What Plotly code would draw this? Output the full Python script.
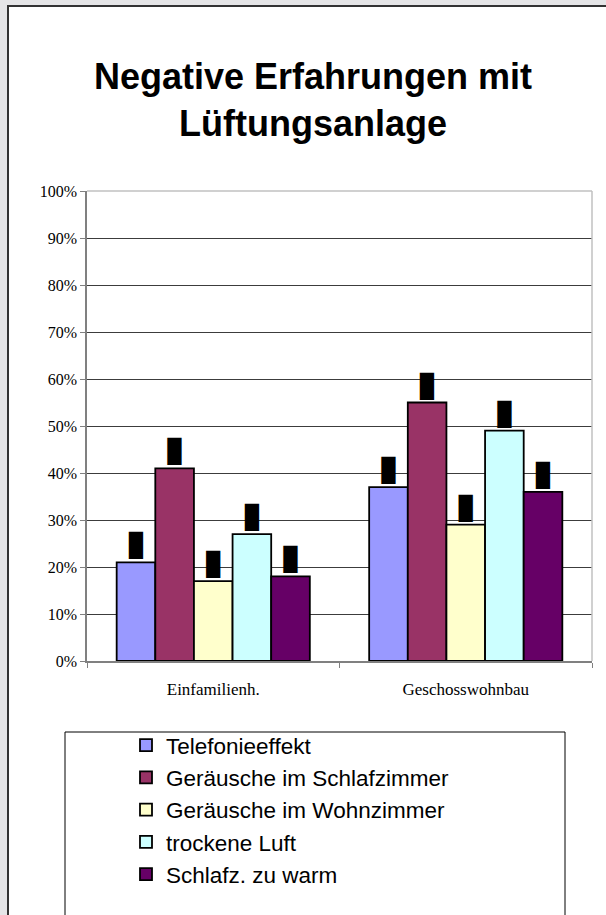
import plotly.graph_objects as go

categories = ["Einfamilienh.", "Geschosswohnbau"]
series_names = [
    "Telefonieeffekt",
    "Geräusche im Schlafzimmer",
    "Geräusche im Wohnzimmer",
    "trockene Luft",
    "Schlafz. zu warm",
]
values = [
    [0.21, 0.37],
    [0.41, 0.55],
    [0.17, 0.29],
    [0.27, 0.49],
    [0.18, 0.36],
]
colors = ["#9999FF", "#993366", "#FFFFCC", "#CCFFFF", "#660066"]
y_ticks = [i / 10 for i in range(11)]
label_glyph = "\u2588"  # labels render as solid black boxes in the reference

W, H = 606, 915
L, R, T, B = 87, 14, 191, 254
pw, ph = W - L - R, H - T - B


def px_x(p):
    return (p - L) / pw


def px_y(p):
    return (H - B - p) / ph


fig = go.Figure()
for name, vals, col in zip(series_names, values, colors):
    fig.add_trace(go.Bar(
        name=name, x=categories, y=vals,
        marker=dict(color=col, line=dict(color="black", width=1.8)),
        text=[label_glyph] * len(vals), textposition="outside",
        textfont=dict(family="DejaVu Sans Mono", size=23, color="black"),
        constraintext="none", cliponaxis=False,
    ))

shapes = [
    # white page panel
    dict(type="rect", xref="paper", yref="paper", layer="below",
         x0=px_x(8), x1=px_x(640), y0=px_y(960), y1=px_y(6),
         fillcolor="white", line=dict(color="#333333", width=2)),
    # plot area top/right border
    dict(type="line", xref="paper", yref="paper", layer="above",
         x0=0, x1=1, y0=1, y1=1, line=dict(color="#c0c0c0", width=1.5)),
    dict(type="line", xref="paper", yref="paper", layer="above",
         x0=1, x1=1, y0=0, y1=1, line=dict(color="#c0c0c0", width=1.5)),
    # legend box
    dict(type="rect", xref="paper", yref="paper", layer="below",
         x0=px_x(65), x1=px_x(565), y0=px_y(960), y1=px_y(732),
         fillcolor="white", line=dict(color="black", width=1)),
]

fig.update_layout(
    width=W, height=H,
    margin=dict(l=L, r=R, t=T, b=B),
    paper_bgcolor="#e5e5e7", plot_bgcolor="white",
    barmode="group", bargap=0.235, bargroupgap=0,
    title=dict(text="<b>Negative Erfahrungen mit<br>Lüftungsanlage</b>",
               x=313 / W, xanchor="center", y=1 - 89 / H, yanchor="top",
               font=dict(family="Liberation Sans", size=36, color="black")),
    xaxis=dict(showline=True, linecolor="#808080", linewidth=1.5,
               ticks="outside", tickson="boundaries", ticklen=5, tickcolor="#808080",
               ticklabelstandoff=12,
               tickfont=dict(family="Liberation Serif", size=17, color="black"),
               showgrid=False),
    yaxis=dict(range=[0, 1], tickvals=y_ticks, tickformat=".0%",
               showline=True, linecolor="#808080", linewidth=1.5,
               ticks="outside", ticklen=5, tickcolor="#808080",
               tickfont=dict(family="Liberation Serif", size=16, color="black"),
               showgrid=True, gridcolor="#3c3c3c", gridwidth=1, zeroline=False),
    legend=dict(x=px_x(126), y=px_y(724), xanchor="left", yanchor="top",
                bgcolor="rgba(0,0,0,0)", borderwidth=0,
                font=dict(family="Liberation Sans", size=22.5, color="black"),
                traceorder="normal"),
    shapes=shapes,
)

fig.write_html("out.html")
